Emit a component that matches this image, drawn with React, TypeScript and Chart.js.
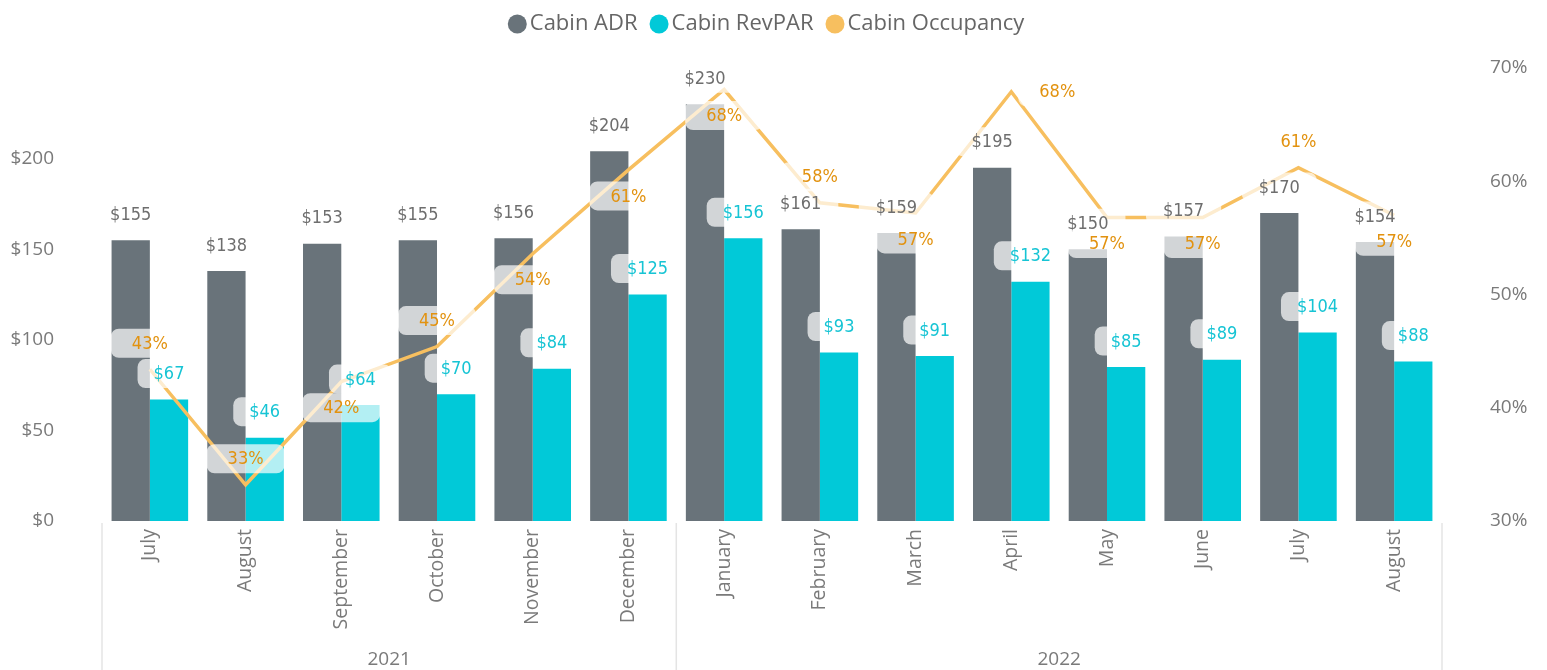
import React, { useEffect, useRef } from 'react';
import { Chart, registerables } from 'chart.js';

Chart.register(...registerables);

// ---------- data ----------
const months = ['July', 'August', 'September', 'October', 'November', 'December', 'January', 'February', 'March', 'April', 'May', 'June', 'July', 'August'];
const years = ['2021', '2022'];
const monthsPerYear = [6, 8];
const cabinADR = [155, 138, 153, 155, 156, 204, 230, 161, 159, 195, 150, 157, 170, 154];
const cabinRevPAR = [67, 46, 64, 70, 84, 125, 156, 93, 91, 132, 85, 89, 104, 88];
const cabinOccupancy = [43.4, 33.2, 42.3, 45.4, 53.6, 61.0, 68.1, 58.1, 57.2, 67.9, 56.8, 56.8, 61.2, 57.0];
const occupancyLabelSide = ['above', 'above', 'below', 'above', 'below', 'below', 'below', 'above', 'below', 'right', 'below', 'below', 'above', 'below'];
const seriesNames = ['Cabin ADR', 'Cabin RevPAR', 'Cabin Occupancy'];

// ---------- style ----------
const ADR_COLOR = '#69737A';
const REVPAR_COLOR = '#01C9D8';
const OCC_COLOR = '#F7BF5F';
const ADR_LABEL = '#6E6E6E';
const REVPAR_LABEL = '#16C4D4';
const OCC_LABEL = '#E2920F';
const AXIS_TEXT = '#7A7A7A';
const UI_FONT = "'Open Sans', 'Segoe UI', sans-serif";
const LABEL_FONT = "'DejaVu Sans', sans-serif";

const legendPlugin = {
  id: 'customLegend',
  afterDraw(chart: any) {
    const ctx = chart.ctx;
    ctx.save();
    ctx.font = `22px ${UI_FONT}`;
    ctx.textBaseline = 'middle';
    ctx.textAlign = 'left';
    const colors = [ADR_COLOR, REVPAR_COLOR, OCC_COLOR];
    const dot = 19;
    const gapDotText = 3;
    const gapItems = 12;
    const widths = seriesNames.map((n) => ctx.measureText(n).width);
    const total = widths.reduce((a, w) => a + dot + gapDotText + w, 0) + gapItems * (seriesNames.length - 1);
    let x = 766 - total / 2;
    const cy = 24;
    seriesNames.forEach((name, i) => {
      ctx.fillStyle = colors[i];
      ctx.beginPath();
      ctx.arc(x + dot / 2, cy, dot / 2, 0, Math.PI * 2);
      ctx.fill();
      ctx.fillStyle = '#666666';
      ctx.fillText(name, x + dot + gapDotText, cy);
      x += dot + gapDotText + widths[i] + gapItems;
    });
    ctx.restore();
  },
};

const groupPlugin = {
  id: 'yearGroups',
  afterDraw(chart: any) {
    const ctx = chart.ctx;
    const xs = chart.scales.x;
    const area = chart.chartArea;
    const bottom = chart.height;
    ctx.save();
    ctx.strokeStyle = '#E4E4E4';
    ctx.lineWidth = 1.5;
    const bounds: number[] = [area.left];
    let idx = 0;
    monthsPerYear.forEach((n, i) => {
      idx += n;
      if (i < monthsPerYear.length - 1) {
        bounds.push((xs.getPixelForValue(idx - 1) + xs.getPixelForValue(idx)) / 2);
      }
    });
    bounds.push(area.right);
    bounds.forEach((bx) => {
      ctx.beginPath();
      ctx.moveTo(bx, area.bottom + 2);
      ctx.lineTo(bx, bottom);
      ctx.stroke();
    });
    ctx.font = `19px ${UI_FONT}`;
    ctx.fillStyle = AXIS_TEXT;
    ctx.textAlign = 'center';
    ctx.textBaseline = 'middle';
    years.forEach((yr, i) => {
      ctx.fillText(yr, (bounds[i] + bounds[i + 1]) / 2, 660);
    });
    ctx.restore();
  },
};

const labelPlugin = {
  id: 'dataLabels',
  afterDatasetsDraw(chart: any) {
    const ctx = chart.ctx;
    ctx.save();
    ctx.font = `18px ${LABEL_FONT}`;
    try {
      (ctx as any).fontStretch = 'condensed';
    } catch (e) {
      /* ignore */
    }
    ctx.textAlign = 'center';
    ctx.textBaseline = 'middle';
    const draw = (text: string, cx: number, cy: number, color: string, padX: number) => {
      const w = ctx.measureText(text).width;
      const bw = w + padX * 2;
      const bh = 29;
      ctx.fillStyle = 'rgba(255,255,255,0.7)';
      ctx.beginPath();
      ctx.roundRect(cx - bw / 2, cy - bh / 2, bw, bh, 8);
      ctx.fill();
      ctx.fillStyle = color;
      ctx.fillText(text, cx, cy + 1);
    };
    const mAdr = chart.getDatasetMeta(0);
    const mRev = chart.getDatasetMeta(1);
    const mOcc = chart.getDatasetMeta(2);
    mAdr.data.forEach((el: any, i: number) => {
      draw('$' + cabinADR[i], el.x, el.y - 26, ADR_LABEL, 17);
    });
    mRev.data.forEach((el: any, i: number) => {
      draw('$' + cabinRevPAR[i], el.x, el.y - 26, REVPAR_LABEL, 16);
    });
    mOcc.data.forEach((el: any, i: number) => {
      const side = occupancyLabelSide[i];
      let cx = el.x;
      let cy = el.y;
      if (side === 'above') cy -= 26;
      else if (side === 'below') cy += 26;
      else cx += 46;
      draw(Math.round(cabinOccupancy[i]) + '%', cx, cy, OCC_LABEL, 21);
    });
    ctx.restore();
  },
};

export default function App() {
  const ref = useRef<HTMLCanvasElement | null>(null);
  useEffect(() => {
    if (!ref.current) return;
    Chart.defaults.font.family = UI_FONT;
    const chart = new Chart(ref.current, {
      type: 'bar',
      data: {
        labels: months,
        datasets: [
          {
            type: 'bar',
            label: seriesNames[0],
            data: cabinADR,
            backgroundColor: ADR_COLOR,
            yAxisID: 'y',
            order: 2,
            categoryPercentage: 0.8,
            barPercentage: 1.0,
          },
          {
            type: 'bar',
            label: seriesNames[1],
            data: cabinRevPAR,
            backgroundColor: REVPAR_COLOR,
            yAxisID: 'y',
            order: 2,
            categoryPercentage: 0.8,
            barPercentage: 1.0,
          },
          {
            type: 'line',
            label: seriesNames[2],
            data: cabinOccupancy,
            borderColor: OCC_COLOR,
            backgroundColor: OCC_COLOR,
            borderWidth: 3.5,
            pointRadius: 0,
            tension: 0,
            yAxisID: 'y1',
            order: 0,
          } as any,
        ],
      },
      options: {
        animation: false,
        responsive: true,
        maintainAspectRatio: false,
        layout: { padding: { top: 68, left: 0, right: 0, bottom: 0 } },
        plugins: {
          legend: { display: false },
          tooltip: { enabled: false },
        },
        scales: {
          x: {
            grid: { display: false, drawTicks: false },
            border: { display: false },
            ticks: {
              autoSkip: false,
              minRotation: 90,
              maxRotation: 90,
              padding: 8,
              color: AXIS_TEXT,
              font: { size: 19.5, family: UI_FONT },
            },
            afterFit(scale: any) {
              scale.height = 149;
            },
          },
          y: {
            position: 'left',
            min: 0,
            max: 250,
            grid: { display: false, drawTicks: false },
            border: { display: false },
            ticks: {
              stepSize: 50,
              padding: 48,
              color: AXIS_TEXT,
              font: { size: 19, family: UI_FONT },
              callback: (v: any) => (v >= 250 ? '' : '$' + v),
            },
            afterFit(scale: any) {
              scale.width = 102;
            },
          },
          y1: {
            position: 'right',
            min: 30,
            max: 70,
            grid: { display: false, drawTicks: false },
            border: { display: false },
            ticks: {
              stepSize: 10,
              padding: 48,
              color: AXIS_TEXT,
              font: { size: 19, family: UI_FONT },
              callback: (v: any) => v + '%',
            },
            afterFit(scale: any) {
              scale.width = 105;
            },
          },
        },
      },
      plugins: [labelPlugin, groupPlugin, legendPlugin],
    });
    return () => chart.destroy();
  }, []);
  return (
    <div style={{ position: 'fixed', left: 0, top: 0, width: 1547, height: 670, background: '#ffffff' }}>
      <canvas ref={ref} />
    </div>
  );
}
